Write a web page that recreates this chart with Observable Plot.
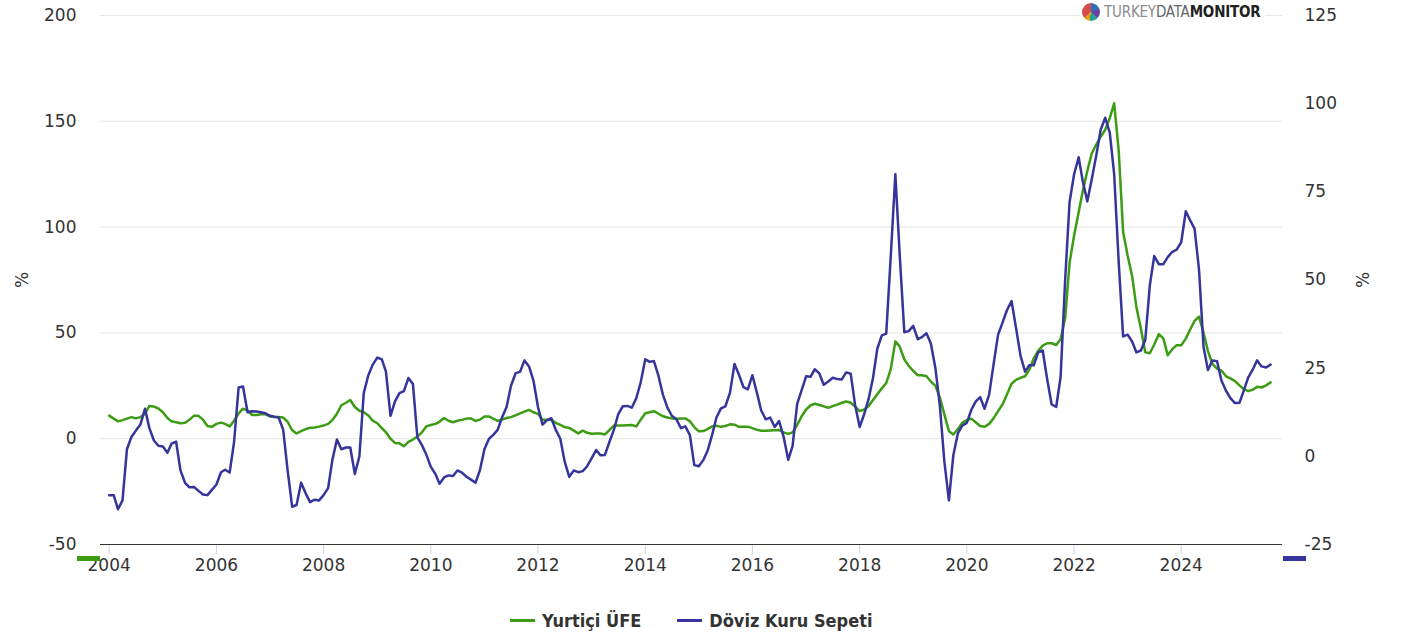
<!DOCTYPE html>
<html>
<head>
<meta charset="utf-8">
<script src="https://cdn.jsdelivr.net/npm/d3@7"></script>
<script src="https://cdn.jsdelivr.net/npm/@observablehq/plot@0.6"></script>
<style>
  body { margin: 0; background: #fff; font-family: "DejaVu Sans", sans-serif; }
  #wrap { position: relative; width: 1403px; height: 638px; overflow: hidden; }
  #legend { position: absolute; left: 510px; top: 608px; height: 24px; display: flex; align-items: center;
            font-weight: bold; font-size: 18px; font-stretch: condensed; color: #333; white-space: nowrap; }
  .sw { display: inline-block; width: 25px; height: 3px; margin-right: 7px; }
  .gap { display: inline-block; width: 36px; }
  #logo { position: absolute; left: 1080px; top: 2px; height: 20px; display: flex; align-items: center;
          background: #fff; padding: 0 4px 0 2px; font-size: 15px; font-stretch: condensed; letter-spacing: -0.2px; }
  #pie { width: 18px; height: 18px; border-radius: 50%; margin-right: 4px;
         background: conic-gradient(#2f6fb5 0 70deg, #6b3fa0 70deg 130deg, #2aa198 130deg 190deg, #e3a21a 190deg 230deg, #d94b4b 230deg 360deg); }
  .bar { position: absolute; top: 556px; width: 23px; height: 5px; }
</style>
</head>
<body>
<div id="wrap">
  <div id="chart"></div>
  <div id="logo"><div id="pie"></div><span style="color:#8a8a8a">TURKEY</span><span style="color:#666">DATA</span><span style="color:#222;font-weight:bold">MONITOR</span></div>
  <div class="bar" style="left:77px;background:#3c9c14"></div>
  <div class="bar" style="left:1283px;background:#35359b"></div>
  <div id="legend">
    <span class="sw" style="background:#3c9c14"></span><span>Yurtiçi ÜFE</span>
    <span class="gap"></span>
    <span class="sw" style="background:#35359b"></span><span>Döviz Kuru Sepeti</span>
  </div>
</div>
<script>
// Monthly series, Jan 2004 – Sep 2025
const seriesNames = ["Yurtiçi ÜFE", "Döviz Kuru Sepeti"];
const firstMonth = "2004-01-01";

// Yurtiçi ÜFE, annual % (left axis)
const ufe = [
  10.9, 9.5, 8.2, 8.8, 9.5, 10.2, 9.6, 10.2, 11.8, 15.5, 15.2, 14.3,
  12.5, 9.8, 8.2, 7.8, 7.3, 7.5, 9.0, 10.8, 10.8, 9.0, 6.0, 5.6,
  7.0, 7.6, 7.0, 5.8, 8.5, 12.0, 14.2, 13.3, 11.2, 11.2, 11.6, 11.5,
  10.5, 10.2, 10.2, 10.0, 8.0, 4.0, 2.5, 3.6, 4.5, 5.2, 5.3, 5.7,
  6.2, 7.0, 8.8, 11.8, 15.8, 17.0, 18.3, 15.0, 13.2, 12.5, 11.0, 8.5,
  7.3, 5.0, 3.0, 0.0, -2.0, -2.2, -3.6, -1.5, -0.4, 1.0, 3.0, 5.8,
  6.5, 7.0, 8.0, 9.8, 8.5, 7.8, 8.5, 8.9, 9.5, 9.6, 8.4, 9.0,
  10.5, 10.5, 9.5, 8.4, 9.0, 9.8, 10.2, 11.0, 12.0, 12.8, 13.6, 12.5,
  11.7, 9.0, 8.9, 8.9, 7.5, 6.5, 5.5, 5.1, 3.8, 2.5, 3.8, 2.8,
  2.3, 2.4, 2.5, 2.0, 4.0, 6.2, 6.2, 6.2, 6.4, 6.5, 5.8, 9.0,
  12.0, 12.5, 13.0, 11.8, 10.6, 10.0, 9.6, 9.4, 9.6, 9.6, 8.2, 5.5,
  3.5, 3.6, 4.5, 5.8, 6.1, 5.6, 6.0, 6.8, 6.6, 5.6, 5.6, 5.7,
  5.0, 4.2, 3.8, 3.8, 3.9, 4.0, 4.1, 3.0, 2.3, 3.0, 6.5, 10.5,
  13.8, 15.8, 16.5, 15.9, 15.3, 14.6, 15.4, 16.1, 17.0, 17.6, 17.0, 15.2,
  13.0, 13.8, 15.3, 18.2, 21.0, 23.8, 26.3, 33.0, 46.0, 43.5, 37.5, 34.5,
  32.0, 30.0, 30.0, 29.5, 27.0, 25.0, 19.5, 11.5, 3.5, 2.0, 4.5, 7.5,
  8.8, 9.4, 7.8, 6.0, 5.6, 7.0, 9.6, 13.0, 16.3, 21.0, 26.0, 27.8,
  28.8, 29.5, 32.5, 38.0, 41.5, 44.0, 45.1, 45.1, 44.3, 47.0, 57.0, 83.0,
  96.0, 107.0, 117.0, 126.5, 134.8, 139.0, 142.7, 146.0, 151.5, 158.5, 136.0, 97.7,
  86.5, 76.6, 62.4, 52.1, 40.8, 40.4, 44.5, 49.4, 47.4, 39.4, 42.3, 44.2,
  44.2, 47.3, 51.5, 55.7, 57.7, 50.1, 41.4, 35.2, 33.1, 32.2, 29.5, 28.5,
  27.2, 25.2, 23.5, 22.5, 23.1, 24.5, 24.2, 25.2, 26.6
];

// Döviz Kuru Sepeti, annual % (right axis)
const doviz = [
  -11.0, -11.0, -15.0, -12.5, 2.0, 5.5, 7.3, 9.0, 13.5, 8.0, 4.5, 3.0,
  2.8, 1.0, 3.6, 4.2, -4.0, -7.5, -8.8, -8.7, -9.8, -10.8, -11.0, -9.5,
  -8.0, -4.5, -3.8, -4.6, 4.0, 19.5, 19.8, 12.5, 12.8, 12.7, 12.5, 12.2,
  11.5, 11.2, 11.0, 7.5, -4.0, -14.3, -13.8, -7.5, -10.5, -13.0, -12.3, -12.5,
  -11.0, -9.0, -1.0, 4.8, 2.0, 2.5, 2.5, -5.0, 0.0, 18.0, 23.0, 26.0,
  28.0, 27.5, 24.0, 11.5, 15.5, 17.9, 18.5, 22.2, 20.5, 5.4, 3.2, 0.5,
  -3.0, -5.0, -7.8, -6.0, -5.4, -5.6, -4.0, -4.6, -5.8, -6.6, -7.5, -4.0,
  2.0, 5.0, 6.0, 7.5, 11.0, 14.0, 20.0, 23.5, 24.0, 27.2, 25.5, 21.5,
  14.0, 9.0, 10.2, 10.8, 7.5, 5.0, -1.5, -5.8, -4.0, -4.5, -4.2, -2.8,
  -0.5, 1.8, 0.3, 0.4, 4.0, 7.5, 12.0, 14.2, 14.3, 13.8, 16.5, 21.0,
  27.5, 26.8, 27.0, 22.8, 17.5, 13.8, 11.5, 10.5, 8.0, 8.5, 6.0, -2.5,
  -2.8, -1.0, 1.5, 6.0, 11.0, 13.6, 14.2, 18.0, 26.2, 23.2, 19.6, 19.0,
  23.0, 18.0, 13.0, 10.5, 11.0, 8.3, 10.0, 5.5, -1.0, 3.0, 14.9, 18.7,
  22.7, 22.6, 24.7, 23.5, 20.3, 21.2, 22.3, 21.9, 21.8, 23.8, 23.4, 14.5,
  8.3, 12.0, 16.0, 22.0, 30.5, 34.3, 34.8, 57.0, 80.0, 57.0, 35.2, 35.5,
  37.0, 33.2, 33.8, 34.9, 32.0, 25.0, 14.5, -1.5, -12.5, 0.3, 6.5, 8.7,
  9.5, 13.2, 15.5, 16.8, 13.5, 17.5, 26.0, 34.5, 38.0, 41.5, 44.0, 36.5,
  28.5, 24.0, 25.8, 25.8, 29.5, 30.0, 22.0, 14.7, 14.0, 22.5, 50.0, 72.0,
  80.0, 84.8, 78.0, 72.3, 78.5, 85.3, 92.6, 96.0, 91.8, 80.0, 55.0, 34.0,
  34.5, 32.5, 29.5, 30.0, 33.0, 48.5, 56.8, 54.5, 54.5, 56.5, 58.0, 58.6,
  60.7, 69.5, 67.0, 64.5, 53.0, 31.0, 24.5, 27.2, 27.0, 21.5, 18.6, 16.5,
  15.1, 15.2, 18.5, 22.3, 24.5, 27.2, 25.5, 25.2, 26.0
];

const leftTicks = [-50, 0, 50, 100, 150, 200];
const rightTicks = [-25, 0, 25, 50, 75, 100, 125];
const xTickYears = [2004, 2006, 2008, 2010, 2012, 2014, 2016, 2018, 2020, 2022, 2024];

// right axis [-25,125] shares the frame with left axis [-50,200]
const toLeft = r => -50 + (r + 25) * 250 / 150;
const toRight = l => (l + 50) * 150 / 250 - 25;

const start = new Date(firstMonth);
const dates = d3.utcMonth.range(start, d3.utcMonth.offset(start, ufe.length));
const rows = dates.map((d, i) => ({date: d, ufe: ufe[i], doviz: doviz[i]}));

const chart = Plot.plot({
  width: 1403,
  height: 590,
  marginLeft: 100,
  marginRight: 121,
  marginTop: 15,
  marginBottom: 46,
  style: {fontFamily: "DejaVu Sans, sans-serif", fontSize: "17px", color: "#333", background: "#fff"},
  x: {type: "utc", domain: [new Date(Date.UTC(2003, 10, 3)), new Date(Date.UTC(2025, 10, 21))]},
  y: {domain: [-50, 200]},
  marks: [
    Plot.gridY([0, 50, 100, 150, 200], {stroke: "#e6e6e6", strokeOpacity: 1}),
    Plot.axisX(xTickYears.map(y => new Date(Date.UTC(y, 0, 1))), {
      tickFormat: "%Y", tickSize: 10, tickPadding: 4, stroke: "#ccd6eb", fill: "#333", label: null
    }),
    Plot.ruleY([-50], {stroke: "#333", strokeWidth: 1.2}),
    Plot.axisY(leftTicks, {
      anchor: "left", tickSize: 0, tickPadding: 24, tickFormat: d => String(d), fill: "#333",
      label: "%", labelAnchor: "center", labelOffset: 85, labelArrow: "none"
    }),
    Plot.axisY(rightTicks.map(toLeft), {
      anchor: "right", tickSize: 0, tickPadding: 22, fill: "#333",
      tickFormat: d => String(Math.round(toRight(d))),
      label: "%", labelAnchor: "center", labelOffset: 86, labelArrow: "none"
    }),
    Plot.lineY(rows, {x: "date", y: "ufe", stroke: "#3c9c14", strokeWidth: 2.5}),
    Plot.lineY(rows, {x: "date", y: r => toLeft(r.doviz), stroke: "#35359b", strokeWidth: 2.5})
  ]
});
document.getElementById("chart").appendChild(chart);
</script>
</body>
</html>
